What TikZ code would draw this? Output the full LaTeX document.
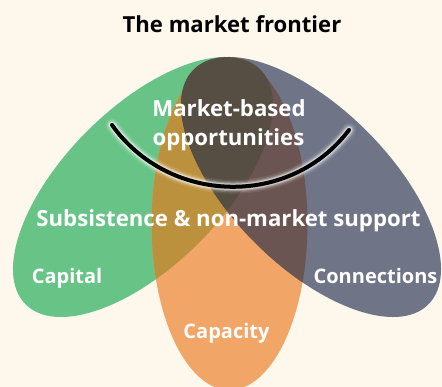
\documentclass[tikz,border=0pt]{standalone}
\usepackage{fontspec}
\setmainfont{Open Sans}
\definecolor{bgc}{HTML}{FEF8EC}
\definecolor{cgreen}{HTML}{67C486}
\definecolor{corange}{HTML}{F1A566}
\definecolor{cgray}{HTML}{6F7587}
\definecolor{cgo}{HTML}{BC913D}
\definecolor{cog}{HTML}{6B5552}
\definecolor{ctri}{HTML}{564E43}
\tikzset{
  greenrot/.style={rotate around={45:(143,187)}},
  grayrot/.style={rotate around={-45:(311,187)}},
  lbl/.style={text=white, font=\fontsize{20}{24}\selectfont\bfseries, anchor=base, inner sep=0pt},
  biglbl/.style={lbl, font=\fontsize{22.2}{26}\selectfont\bfseries},
  ttl/.style={text=black, font=\fontsize{22.1}{26}\selectfont\bfseries, anchor=base, inner sep=0pt},
  glow/.style={white, line cap=round},
  frontier/.style={black, line width=4pt, line cap=round}
}
\def\GE{(143,187) ellipse [x radius=166, y radius=79]}
\def\GR{(311,187) ellipse [x radius=166, y radius=79]}
\def\OR{(229.5,224) ellipse [x radius=78, y radius=166]}
\begin{document}
\begin{tikzpicture}[x=1pt,y=-1pt]
\fill[bgc] (0,0) rectangle (442,387);
\useasboundingbox (0,0) rectangle (442,387);
\clip (0,0) rectangle (442,387);
\fill[cgreen, greenrot] \GE;
\fill[corange] \OR;
\fill[cgray, grayrot] \GR;
\begin{scope}
  \clip[greenrot] \GE;
  \fill[cgo] \OR;
\end{scope}
\begin{scope}
  \clip[grayrot] \GR;
  \fill[cog] \OR;
\end{scope}
\begin{scope}
  \clip[greenrot] \GE;
  \clip[grayrot] \GR;
  \fill[ctri] (0,0) rectangle (442,387);
\end{scope}
\coordinate (arcL) at (112,125);
\coordinate (arcR) at (349,130);
\foreach \w/\o in {14/0.08, 11/0.14, 8.5/0.25, 6.5/0.45} {
  \draw[glow, line width=\w pt, opacity=\o] (arcL) .. controls (169,205) and (290,208) .. (arcR);
}
\draw[frontier] (arcL) .. controls (169,205) and (290,208) .. (arcR);
\node[ttl] (title) at (232,33) {The market frontier};
\node[biglbl] (mkt1) at (229,117) {Market-based};
\node[biglbl] (mkt2) at (228.5,146) {opportunities};
\node[biglbl] (subs) at (228.5,227) {Subsistence \& non-market support};
\node[lbl] (capital) at (67,284) {Capital};
\node[lbl] (conn) at (375.5,284) {Connections};
\node[lbl] (capacity) at (226.5,339) {Capacity};
\end{tikzpicture}
\end{document}
